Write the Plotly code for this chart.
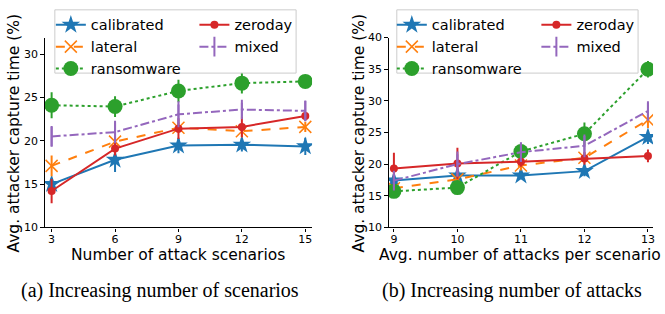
import plotly.graph_objects as go

# ---------------- data ----------------
series_names = ["calibrated", "zeroday", "lateral", "mixed", "ransomware"]

scen_x = [3, 6, 9, 12, 15]
scen_vals = {
    "calibrated": [15.0, 17.8, 19.45, 19.55, 19.35],
    "zeroday":    [14.2, 19.1, 21.4, 21.6, 22.85],
    "lateral":    [17.1, 19.9, 21.5, 21.1, 21.6],
    "mixed":      [20.5, 21.0, 23.05, 23.6, 23.45],
    "ransomware": [24.1, 23.95, 25.75, 26.65, 26.85],
}
scen_err = {
    "calibrated": [0.7, 1.4, 0.9, 0.8, 1.0],
    "zeroday":    [1.4, 0.8, 1.2, 1.2, 0.5],
    "lateral":    [1.2, 0.6, 0.6, 0.7, 0.6],
    "mixed":      [1.2, 1.3, 1.5, 0.8, 1.2],
    "ransomware": [1.5, 1.2, 1.3, 1.2, 0.4],
}

att_x = [9, 10, 11, 12, 13]
att_vals = {
    "calibrated": [17.4, 18.2, 18.2, 18.9, 24.3],
    "zeroday":    [19.3, 20.1, 20.4, 20.9, 21.3],
    "lateral":    [16.2, 17.6, 19.8, 21.0, 27.0],
    "mixed":      [17.4, 20.0, 21.9, 22.9, 28.4],
    "ransomware": [15.7, 16.3, 22.0, 24.8, 35.0],
}
att_err = {
    "calibrated": [0.6, 0.8, 0.6, 0.8, 1.1],
    "zeroday":    [2.5, 2.5, 0.8, 1.0, 1.0],
    "lateral":    [0.6, 0.8, 0.8, 0.9, 1.3],
    "mixed":      [1.0, 2.0, 1.5, 1.8, 1.3],
    "ransomware": [0.9, 0.9, 1.0, 1.8, 1.3],
}

scen_ticks = [3, 6, 9, 12, 15]
att_ticks = [9, 10, 11, 12, 13]
y_ticks_a = [10, 15, 20, 25, 30]
y_ticks_b = [10, 15, 20, 25, 30, 35, 40]

y_title = "Avg. attacker capture time (%)"
x_title_a = "Number of attack scenarios"
x_title_b = "Avg. number of attacks per scenario"
caption_a = "(a) Increasing number of scenarios"
caption_b = "(b) Increasing number of attacks"

# ---------------- styles ----------------
W, H = 665, 314
styles = {
    "calibrated": dict(color="#1f77b4", dash="solid", symbol="star", size=14, mlw=0),
    "zeroday":    dict(color="#d62728", dash="solid", symbol="circle", size=8, mlw=0),
    "lateral":    dict(color="#ff7f0e", dash="dash", symbol="x-thin-open", size=12, mlw=1.5),
    "mixed":      dict(color="#9467bd", dash="dashdot", symbol="line-ns-open", size=14, mlw=2),
    "ransomware": dict(color="#2ca02c", dash="dot", symbol="circle", size=15, mlw=0),
}
# legend column assignment (matplotlib ncol=2 layout)
col_of = {"calibrated": 0, "lateral": 0, "ransomware": 0, "zeroday": 1, "mixed": 1}
col_order = ["calibrated", "lateral", "ransomware", "zeroday", "mixed"]

fig = go.Figure()

panels = [
    (scen_x, scen_vals, scen_err, "x", "y", ["legend", "legend2"]),
    (att_x, att_vals, att_err, "x2", "y2", ["legend3", "legend4"]),
]
for xs, vals, errs, xa, ya, legs in panels:
    for name in col_order:
        s = styles[name]
        fig.add_trace(go.Scatter(
            x=xs, y=vals[name], name=name, xaxis=xa, yaxis=ya,
            mode="lines+markers",
            line=dict(color=s["color"], width=2, dash=s["dash"]),
            marker=dict(symbol=s["symbol"], size=s["size"], color=s["color"],
                        line=dict(color=s["color"], width=s["mlw"])),
            error_y=dict(type="data", array=errs[name], visible=True,
                         color=s["color"], thickness=2, width=0),
            legend=legs[col_of[name]],
        ))

def px_x(p):
    return p / W

def px_y(p):
    return 1 - p / H

axis_common = dict(
    showline=True, linecolor="black", linewidth=1.2, mirror=False,
    ticks="outside", ticklen=3.5, tickwidth=1, tickcolor="black",
    showgrid=False, zeroline=False,
    tickfont=dict(family="DejaVu Sans", size=11, color="black"),
)

leg_common = dict(
    orientation="v", xanchor="left", yanchor="top",
    bgcolor="rgba(0,0,0,0)", borderwidth=0,
    font=dict(family="DejaVu Sans", size=14.5, color="black"),
    itemwidth=30, tracegroupgap=0,
)

fig.update_layout(
    width=W, height=H,
    margin=dict(l=0, r=0, t=0, b=0),
    paper_bgcolor="white", plot_bgcolor="white",
    showlegend=True,
    xaxis=dict(domain=[px_x(45), px_x(313)], range=[2.68, 15.32],
               tickvals=scen_ticks, anchor="y", ticklabelstandoff=-2, **axis_common),
    yaxis=dict(domain=[px_y(231), px_y(33)], range=[10, 31.9],
               tickvals=y_ticks_a, anchor="x", **axis_common),
    xaxis2=dict(domain=[px_x(390), px_x(655)], range=[8.92, 13.08],
                tickvals=att_ticks, anchor="y2", ticklabelstandoff=-2, **axis_common),
    yaxis2=dict(domain=[px_y(231), px_y(33)], range=[10, 40],
                tickvals=y_ticks_b, anchor="x2", **axis_common),
    legend=dict(x=px_x(51), y=px_y(3), **leg_common),
    legend2=dict(x=px_x(195), y=px_y(3), **leg_common),
    legend3=dict(x=px_x(393), y=px_y(3), **leg_common),
    legend4=dict(x=px_x(538), y=px_y(3), **leg_common),
)

# legend frames
for x0, x1 in [(55, 297), (398, 640)]:
    fig.add_shape(type="rect", xref="paper", yref="paper",
                  x0=px_x(x0), x1=px_x(x1), y0=px_y(70), y1=px_y(4),
                  line=dict(color="#cccccc", width=1),
                  fillcolor="rgba(255,255,255,0.8)", layer="above")

title_font = dict(family="DejaVu Sans", size=15.5, color="black")
cap_font = dict(family="Liberation Serif", size=20, color="black")
annots = [
    dict(text=y_title, x=px_x(14), y=px_y(132), textangle=-90, font=title_font),
    dict(text=y_title, x=px_x(360), y=px_y(132), textangle=-90, font=title_font),
    dict(text=x_title_a, x=px_x(179), y=px_y(260), font=title_font),
    dict(text=x_title_b, x=px_x(522), y=px_y(260), font=title_font),
    dict(text=caption_a, x=px_x(160), y=px_y(297), font=cap_font),
    dict(text=caption_b, x=px_x(514), y=px_y(297), font=cap_font),
]
for a in annots:
    fig.add_annotation(xref="paper", yref="paper", showarrow=False,
                       xanchor="center", yanchor="middle", **a)

fig.write_html(
    "out.html",
    config={"displayModeBar": False},
    post_script="document.body.style.margin='0px';document.body.style.overflow='hidden';",
)
